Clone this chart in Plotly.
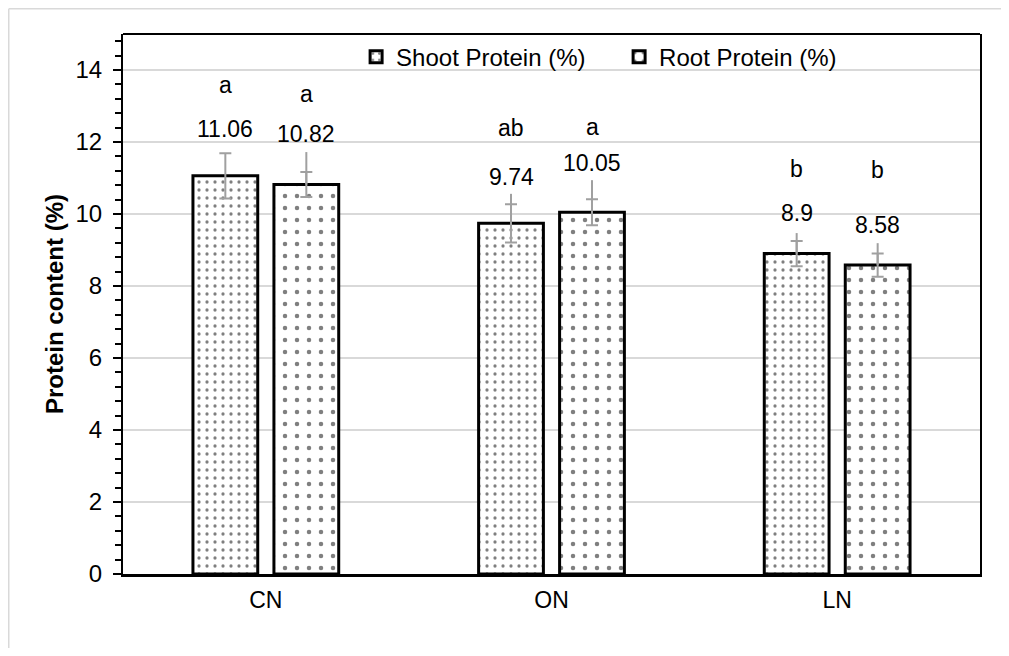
import plotly.graph_objects as go

# ---- data ----
categories = ["CN", "ON", "LN"]
shoot = [11.06, 9.74, 8.90]
root = [10.82, 10.05, 8.58]
shoot_err = [0.63, 0.53, 0.35]
root_err = [0.35, 0.36, 0.32]
shoot_err_ext = [0.0, 0.82, 0.57]
root_err_ext = [0.90, 0.89, 0.61]
shoot_letters = ["a", "ab", "b"]
root_letters = ["a", "a", "b"]
shoot_text = ["11.06", "9.74", "8.9"]
root_text = ["10.82", "10.05", "8.58"]
y_ticks = [0, 2, 4, 6, 8, 10, 12, 14]

# ---- label placement (layout only) ----
shoot_val_y = [12.36, 11.03, 10.03]
root_val_y = [12.22, 11.42, 9.69]
shoot_let_y = [13.58, 12.39, 11.25]
root_let_y = [13.32, 12.42, 11.22]

FONT = "Liberation Sans, Arial, sans-serif"
ERR_COL = "#a0a0a0"

fig = go.Figure()

fig.add_trace(go.Bar(
    name="Shoot Protein (%)", x=categories, y=shoot, offsetgroup="s",
    marker=dict(color="white", line=dict(color="black", width=3),
                pattern=dict(shape=".", fgcolor="black", bgcolor="white",
                             size=8, solidity=0.13, fillmode="overlay")),
    error_y=dict(type="data", array=shoot_err, color=ERR_COL, thickness=2, width=6),
))
fig.add_trace(go.Bar(
    name="Root Protein (%)", x=categories, y=root, offsetgroup="r",
    marker=dict(color="white", line=dict(color="black", width=3),
                pattern=dict(shape=".", fgcolor="black", bgcolor="white",
                             size=12, solidity=0.11, fillmode="overlay")),
    error_y=dict(type="data", array=root_err, color=ERR_COL, thickness=2, width=6),
))
# extra upper whisker lines (no caps)
fig.add_trace(go.Bar(
    x=categories, y=shoot, offsetgroup="s", showlegend=False, hoverinfo="skip",
    marker=dict(color="rgba(0,0,0,0)", line=dict(width=0)),
    error_y=dict(type="data", array=shoot_err_ext, arrayminus=[0, 0, 0],
                 symmetric=False, color=ERR_COL, thickness=2, width=0),
))
fig.add_trace(go.Bar(
    x=categories, y=root, offsetgroup="r", showlegend=False, hoverinfo="skip",
    marker=dict(color="rgba(0,0,0,0)", line=dict(width=0)),
    error_y=dict(type="data", array=root_err_ext, arrayminus=[0, 0, 0],
                 symmetric=False, color=ERR_COL, thickness=2, width=0),
))

ann = []
for i, c in enumerate(categories):
    for xs, vy, ly, vt, lt in [(-40.5, shoot_val_y[i], shoot_let_y[i], shoot_text[i], shoot_letters[i]),
                               (40.5, root_val_y[i], root_let_y[i], root_text[i], root_letters[i])]:
        ann.append(dict(x=c, y=vy, text=vt, xshift=xs, showarrow=False,
                        font=dict(family=FONT, size=23, color="black"),
                        xanchor="center", yanchor="middle"))
        ann.append(dict(x=c, y=ly, text=lt, xshift=xs, showarrow=False,
                        font=dict(family=FONT, size=23, color="black"),
                        xanchor="center", yanchor="middle"))

fig.update_layout(
    width=993, height=640,
    margin=dict(l=115, r=21, t=26, b=74, autoexpand=False),
    paper_bgcolor="white", plot_bgcolor="white",
    barmode="group", bargap=0.433, bargroupgap=0.2,
    font=dict(family=FONT, size=24, color="black"),
    annotations=ann,
    legend=dict(orientation="h", x=0.272, xanchor="left", y=0.957, yanchor="middle",
                font=dict(family=FONT, size=24, color="black"),
                bgcolor="rgba(0,0,0,0)", itemwidth=30,
                entrywidth=218, entrywidthmode="pixels"),
    showlegend=True,
    shapes=[
        dict(type="line", xref="paper", yref="paper", x0=-0.1333, y0=-0.2, x1=-0.1333, y1=1.0468,
             line=dict(color="#d9d9d9", width=1.5), layer="below"),
        dict(type="line", xref="paper", yref="paper", x0=-0.1333, y0=1.0468, x1=1.05, y1=1.0468,
             line=dict(color="#d9d9d9", width=1.5), layer="below"),
        dict(type="line", xref="paper", yref="paper", x0=0, x1=1, y0=1, y1=1,
             line=dict(color="black", width=2)),
    ],
)

fig.update_xaxes(
    showline=True, linecolor="black", linewidth=3, ticks="",
    tickfont=dict(family=FONT, size=23, color="black"),
    ticklabelstandoff=3, showgrid=False, automargin=False,
)
fig.update_yaxes(
    range=[0, 15], tickvals=y_ticks, showline=True, linecolor="black", linewidth=2,
    mirror=True, ticks="outside", ticklen=8, tickwidth=2, tickcolor="black",
    minor=dict(dtick=0.4, ticks="outside", ticklen=6, tickwidth=2, tickcolor="black", showgrid=False),
    showgrid=True, gridcolor="#d9d9d9", gridwidth=2, zeroline=False,
    tickfont=dict(family=FONT, size=24, color="black"), ticklabelstandoff=6,
    title=dict(text="<b>Protein content (%)</b>", standoff=5,
               font=dict(family=FONT, size=24, color="black")),
    automargin=False,
)

fig.write_html("out.html")
